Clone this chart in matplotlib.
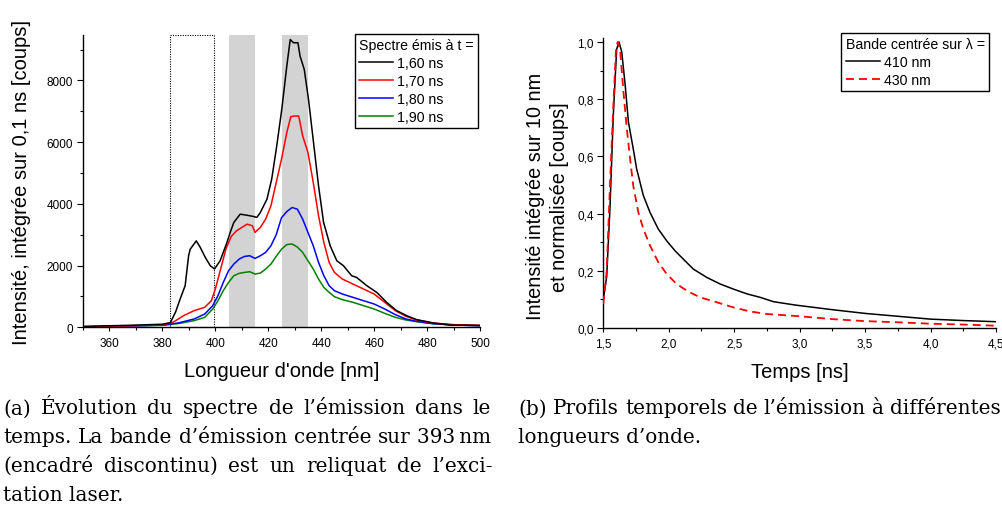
import matplotlib
matplotlib.use('Agg')
import matplotlib.pyplot as plt
from matplotlib.patches import Rectangle
from matplotlib.ticker import MultipleLocator, FuncFormatter

plt.rcParams['font.family'] = ['Liberation Sans', 'DejaVu Sans']

# ---------------- data (a) : spectra ----------------
wl_160 = [350, 360, 370, 380, 383, 385, 386.7, 388.6, 389.9, 390.5, 392.8, 394.3, 396.2, 398.1,
          399.7, 401.8, 404.4, 405.6, 407, 409.4, 412, 414.4, 415.7, 417, 419.5, 421.3, 423.2,
          425.1, 427, 428.3, 429.5, 431.2, 432, 433.6, 435.2, 437.1, 439, 440.9, 443.4, 445.9,
          448.4, 451.5, 453.4, 457.2, 461, 464.7, 468.5, 472.3, 476, 482.4, 488.7, 500]
int_160 = [30, 50, 70, 100, 150, 500, 916, 1350, 2318, 2530, 2800, 2590, 2265, 1995,
           1890, 2155, 2750, 3070, 3400, 3665, 3630, 3590, 3560, 3720, 4150, 4800, 5875,
           7060, 8460, 9325, 9220, 9220, 8790, 8355, 7385, 5985, 4580, 3400, 2640, 2155,
           1995, 1670, 1615, 1350, 1130, 810, 540, 377, 250, 140, 75, 55]

wl_170 = [350, 365, 380, 384, 388, 392, 396, 398.5, 400, 402, 404, 406, 408, 410, 412, 414, 415,
          417, 419, 421, 423, 425, 427, 428.5, 430, 431.5, 433, 435, 437, 439, 441, 443, 445,
          448, 452, 456, 460, 464, 468, 472, 476, 482, 490, 500]
int_170 = [20, 45, 80, 162, 377, 540, 647, 862, 1240, 1887, 2534, 2943, 3127, 3235, 3342, 3288,
           3073, 3235, 3504, 3935, 4690, 5445, 6307, 6825, 6846, 6846, 6200, 5660, 4690, 3612,
           2750, 2102, 1779, 1563, 1401, 1240, 1078, 810, 540, 356, 237, 140, 86, 65]

wl_180 = [350, 365, 380, 386, 392, 396, 399, 401, 403, 405, 407, 409, 411, 413, 415, 417, 419,
          421, 423, 425, 427, 429, 431, 433, 435, 437, 439, 441, 443, 445, 448, 452, 456, 460,
          464, 468, 472, 476, 482, 490, 500]
int_180 = [15, 40, 70, 140, 270, 431, 700, 1024, 1455, 1833, 2049, 2210, 2296, 2318, 2232, 2318,
           2426, 2641, 3000, 3550, 3750, 3881, 3827, 3504, 3073, 2641, 2102, 1671, 1348, 1186,
           1078, 970, 862, 755, 593, 410, 270, 194, 119, 75, 54]

wl_190 = wl_180
int_190 = [10, 35, 65, 120, 216, 323, 593, 862, 1186, 1455, 1671, 1747, 1779, 1800, 1725, 1757,
           1887, 2049, 2300, 2530, 2680, 2700, 2600, 2426, 2156, 1887, 1563, 1294, 1132, 992,
           895, 809, 701, 593, 453, 323, 237, 183, 119, 75, 54]

labels_a = ['1,60 ns', '1,70 ns', '1,80 ns', '1,90 ns']
colors_a = ['#000000', '#ff0000', '#0000ff', '#008000']
bands = [(405, 415), (425, 435)]
laser_box = (383, 399.5)

# ---------------- data (b) : temporal profiles ----------------
t_410 = [1.50, 1.526, 1.551, 1.577, 1.602, 1.62, 1.641, 1.667, 1.692, 1.729, 1.755, 1.806,
         1.857, 1.92, 1.984, 2.048, 2.124, 2.188, 2.29, 2.392, 2.494, 2.6, 2.7, 2.8, 2.97,
         3.25, 3.5, 3.75, 4.0, 4.25, 4.5]
v_410 = [0.10, 0.18, 0.42, 0.75, 0.975, 1.0, 0.965, 0.85, 0.72, 0.626, 0.556, 0.463,
         0.404, 0.346, 0.305, 0.27, 0.235, 0.206, 0.177, 0.154, 0.136, 0.119, 0.107, 0.092, 0.080,
         0.064, 0.051, 0.041, 0.031, 0.026, 0.022]
t_430 = [1.50, 1.526, 1.551, 1.577, 1.597, 1.61, 1.628, 1.654, 1.68, 1.705, 1.729, 1.768,
         1.806, 1.857, 1.92, 1.984, 2.06, 2.15, 2.24, 2.367, 2.494, 2.62, 2.75, 3.0, 3.25,
         3.5, 3.75, 4.0, 4.25, 4.5]
v_430 = [0.084, 0.2, 0.5, 0.78, 0.975, 1.0, 0.975, 0.825, 0.696, 0.59, 0.497, 0.404,
         0.346, 0.288, 0.23, 0.189, 0.154, 0.127, 0.107, 0.09, 0.072, 0.058, 0.049, 0.041, 0.031,
         0.024, 0.020, 0.015, 0.012, 0.008]

cap_a = ["(a) Évolution du spectre de l’émission dans le",
         "temps. La bande d’émission centrée sur 393\u2009nm",
         "(encadré discontinu) est un reliquat de l’exci-",
         "tation laser."]
cap_b = ["(b) Profils temporels de l’émission à différentes",
         "longueurs d’onde."]

# ---------------- figure ----------------
W, H = 1003, 506
fig = plt.figure(figsize=(W / 100, H / 100), dpi=100)


def fx(px):
    return px / W


def fy(py):
    return 1 - py / H


ax1 = fig.add_axes([fx(83), fy(328.3), fx(480) - fx(83), fy(36) - fy(328.3)])
ax2 = fig.add_axes([fx(603.3), fy(329), fx(996) - fx(603.3), fy(39.3) - fy(329)])

for ax in (ax1, ax2):
    ax.spines['top'].set_visible(False)
    ax.spines['right'].set_visible(False)
    ax.spines['left'].set_linewidth(1.0)
    ax.spines['bottom'].set_linewidth(1.0)
    ax.tick_params(axis='both', which='both', direction='out', width=0.8, labelsize=8.5,
                   colors='black')
    ax.tick_params(axis='x', which='major', length=3.2, pad=3.5)
    ax.tick_params(axis='x', which='minor', length=2.0)
    ax.tick_params(axis='y', which='major', length=4.5, pad=2.5)
    ax.tick_params(axis='y', which='minor', length=2.2)

# (a)
for x0, x1 in bands:
    ax1.axvspan(x0, x1, color='#d3d3d3', lw=0, zorder=0)
ymax1 = 9470
ax1.add_patch(Rectangle((laser_box[0], 0), laser_box[1] - laser_box[0], ymax1, fill=False,
                        ec='black', lw=0.8, ls=(0, (1, 1.2)), zorder=1, clip_on=False))
series = [(wl_160, int_160), (wl_170, int_170), (wl_180, int_180), (wl_190, int_190)]
for i in range(3, -1, -1):
    x, y = series[i]
    ax1.plot(x, y, color=colors_a[i], lw=1.1, label=labels_a[i], zorder=3 + (3 - i))
ax1.set_xlim(350, 500)
ax1.set_ylim(0, ymax1)
ax1.xaxis.set_major_locator(MultipleLocator(20))
ax1.xaxis.set_minor_locator(MultipleLocator(10))
ax1.yaxis.set_major_locator(MultipleLocator(2000))
ax1.yaxis.set_minor_locator(MultipleLocator(1000))
ax1.set_xticks([360, 380, 400, 420, 440, 460, 480, 500])
ax1.set_xlabel("Longueur d'onde [nm]", fontsize=14.5, labelpad=9)
ax1.set_ylabel("Intensité, intégrée sur 0,1 ns [coups]", fontsize=14.5, labelpad=11)
h, l = ax1.get_legend_handles_labels()
leg1 = ax1.legend(h[::-1], l[::-1], title="Spectre émis à t =", loc='upper right',
                  bbox_to_anchor=(fx(478), fy(35)), bbox_transform=fig.transFigure,
                  fontsize=10.2, title_fontsize=10.2, frameon=True, fancybox=False,
                  edgecolor='black', framealpha=1, borderpad=0.3, labelspacing=0.27,
                  handlelength=2.4, handletextpad=0.3, borderaxespad=0,
                  alignment='left')
leg1.get_frame().set_linewidth(1.0)

# (b)
ax2.plot(t_410, v_410, color='black', lw=1.1, label='410 nm', zorder=3)
ax2.plot(t_430, v_430, color='#ff0000', lw=1.3, ls=(0, (4.4, 2.8)), label='430 nm', zorder=4)
ax2.set_xlim(1.5, 4.5)
ax2.set_ylim(0, 1.013)
ax2.xaxis.set_major_locator(MultipleLocator(0.5))
ax2.xaxis.set_minor_locator(MultipleLocator(0.25))
ax2.yaxis.set_major_locator(MultipleLocator(0.2))
ax2.yaxis.set_minor_locator(MultipleLocator(0.1))
comma = FuncFormatter(lambda v, p: f"{v:.1f}".replace('.', ','))
ax2.xaxis.set_major_formatter(comma)
ax2.yaxis.set_major_formatter(comma)
ax2.set_xlabel("Temps [ns]", fontsize=14.5, labelpad=9)
ax2.set_ylabel("Intensité intégrée sur 10 nm\net normalisée [coups]", fontsize=14.3,
               linespacing=1.3)
ax2.yaxis.set_label_coords(-0.088, 0.456)
leg2 = ax2.legend(title="Bande centrée sur λ =", loc='upper right',
                  bbox_to_anchor=(fx(989), fy(34)), bbox_transform=fig.transFigure,
                  fontsize=10.2, title_fontsize=10.2, frameon=True, fancybox=False,
                  edgecolor='black', framealpha=1, borderpad=0.3, labelspacing=0.27,
                  handlelength=2.4, handletextpad=0.3, borderaxespad=0,
                  alignment='left')
leg2.get_frame().set_linewidth(1.0)

# ---------------- captions ----------------
renderer = fig.canvas.get_renderer()
cap_kw = dict(family='DejaVu Serif', fontsize=14.4, va='baseline', ha='left', color='black')


def place_line(text, x0, y, x1=None):
    words = text.split(' ')
    if x1 is None:
        fig.text(fx(x0), fy(y), text, **cap_kw)
        return
    objs = [fig.text(0, fy(y), w, **cap_kw) for w in words]
    widths = [o.get_window_extent(renderer).width for o in objs]
    gap = ((x1 - x0) - sum(widths)) / max(len(words) - 1, 1)
    x = x0
    for o, wdt in zip(objs, widths):
        o.set_x(fx(x))
        x += wdt + gap


baselines = [414.5, 443.3, 472.2, 500.8]
place_line(cap_a[0], 3, baselines[0], 491)
place_line(cap_a[1], 3, baselines[1], 491)
place_line(cap_a[2], 3, baselines[2], 493)
place_line(cap_a[3], 3, baselines[3])
place_line(cap_b[0], 518, baselines[0], 1001)
place_line(cap_b[1], 518, baselines[1])

fig.savefig('out.png', dpi=100)
